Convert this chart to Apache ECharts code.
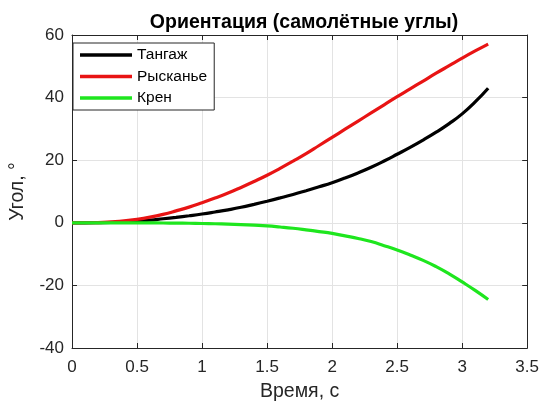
<!DOCTYPE html>
<html>
<head>
<meta charset="utf-8">
<script src="https://cdn.jsdelivr.net/npm/echarts@6/dist/echarts.min.js"></script>
<style>html,body{margin:0;padding:0;background:#fff}#c{width:542px;height:408px}</style>
</head>
<body>
<div id="c"></div>
<script>
const time = [0,0.1,0.2,0.3,0.4,0.5,0.6,0.7,0.8,0.9,1.0,1.1,1.2,1.3,1.4,1.5,1.6,1.7,1.8,1.9,2.0,2.1,2.2,2.3,2.4,2.5,2.6,2.7,2.8,2.9,3.0,3.1,3.2];
const pitch = [0,0,0.03,0.1,0.25,0.5,0.85,1.3,1.75,2.25,2.8,3.45,4.15,4.95,5.9,6.9,7.95,9.05,10.25,11.5,12.8,14.3,15.95,17.75,19.75,21.9,24.1,26.45,28.95,31.7,34.8,38.6,43.0];
const yaw = [0,0.01,0.08,0.3,0.6,1.1,1.8,2.7,3.8,5.0,6.4,7.9,9.5,11.3,13.2,15.2,17.4,19.7,22.1,24.7,27.3,29.9,32.5,35.1,37.7,40.3,42.8,45.3,47.8,50.2,52.6,54.9,57.1];
const roll = [0,0,0,0,0,-0.01,-0.03,-0.06,-0.1,-0.15,-0.22,-0.3,-0.42,-0.57,-0.77,-1.0,-1.35,-1.75,-2.25,-2.8,-3.4,-4.2,-5.0,-6.0,-7.3,-8.7,-10.3,-12.0,-14.0,-16.3,-18.9,-21.6,-24.5];
const names = ['Тангаж','Рысканье','Крен'];
const colors = ['#000000','#e81414','#1ee61e'];
const xTicks = {min:0,max:3.5,interval:0.5};
const yTicks = {min:-40,max:60,interval:20};
const titleText = 'Ориентация (самолётные углы)';
const xName = 'Время, с';
const yName = 'Угол, °';

const axisCol = '#262626';
const font = '"Liberation Sans", Arial, sans-serif';
const chart = echarts.init(document.getElementById('c'), null, {renderer:'canvas'});
const pair = (arr) => time.map((t,i)=>[t,arr[i]]);
const seriesData = [pitch, yaw, roll];
chart.setOption({
  animation:false,
  backgroundColor:'#fff',
  title:{text:titleText,left:299,textAlign:'center',top:8,textStyle:{fontFamily:font,fontSize:19.5,fontWeight:'bold',color:'#000'}},
  grid:{left:69.5,right:13,top:35,bottom:60,containLabel:false},
  legend:{
    orient:'vertical',left:73,top:43,
    padding:[3,7,3,7],itemGap:3.5,
    itemWidth:52,itemHeight:3.5,icon:'rect',
    borderColor:axisCol,borderWidth:1,backgroundColor:'#fff',
    textStyle:{fontFamily:font,fontSize:15.5,color:'#000',lineHeight:18},
    data:names
  },
  xAxis:[
    {type:'value',min:xTicks.min,max:xTicks.max,interval:xTicks.interval,
     name:xName,nameLocation:'middle',nameGap:34,
     nameTextStyle:{fontFamily:font,fontSize:19.5,color:axisCol},
     axisLine:{show:true,onZero:false,lineStyle:{color:axisCol,width:1}},
     axisTick:{show:true,inside:true,length:5,lineStyle:{color:axisCol}},
     axisLabel:{fontFamily:font,fontSize:17,color:axisCol,margin:11,formatter:v=>String(v)},
     splitLine:{show:true,lineStyle:{color:'#e3e3e3',width:1}}},
    {type:'value',position:'top',min:xTicks.min,max:xTicks.max,interval:xTicks.interval,
     axisLine:{show:true,onZero:false,lineStyle:{color:axisCol,width:1}},
     axisTick:{show:true,inside:true,length:5,lineStyle:{color:axisCol}},
     axisLabel:{show:false},splitLine:{show:false}}
  ],
  yAxis:[
    {type:'value',min:yTicks.min,max:yTicks.max,interval:yTicks.interval,
     name:yName,nameLocation:'middle',nameGap:44,nameRotate:90,
     nameTextStyle:{fontFamily:font,fontSize:19.5,color:axisCol},
     axisLine:{show:true,onZero:false,lineStyle:{color:axisCol,width:1}},
     axisTick:{show:true,inside:true,length:5,lineStyle:{color:axisCol}},
     axisLabel:{fontFamily:font,fontSize:17,color:axisCol,margin:8},
     splitLine:{show:true,lineStyle:{color:'#e3e3e3',width:1}}},
    {type:'value',position:'right',min:yTicks.min,max:yTicks.max,interval:yTicks.interval,
     axisLine:{show:true,onZero:false,lineStyle:{color:axisCol,width:1}},
     axisTick:{show:true,inside:true,length:5,lineStyle:{color:axisCol}},
     axisLabel:{show:false},splitLine:{show:false}}
  ],
  series: names.map((n,i)=>({
    name:n,type:'line',data:pair(seriesData[i]),smooth:true,showSymbol:false,symbol:'none',
    xAxisIndex:0,yAxisIndex:0,
    lineStyle:{color:colors[i],width:3.2},itemStyle:{color:colors[i]}
  }))
});
</script>
</body>
</html>
